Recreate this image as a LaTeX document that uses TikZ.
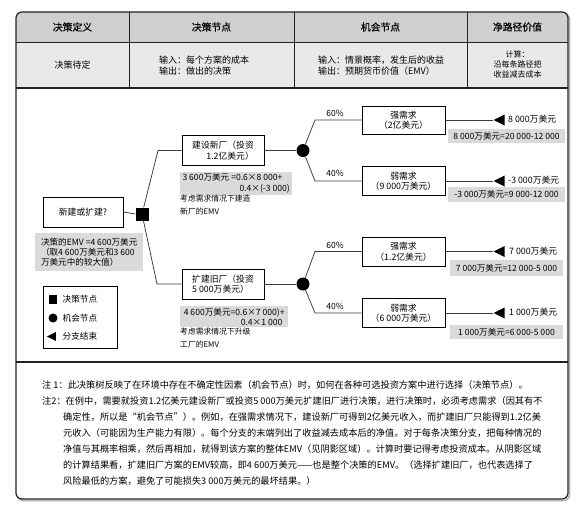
\documentclass[tikz,border=0pt]{standalone}
\usepackage{fontspec}
\setmainfont{Noto Sans CJK SC}
\newfontfamily\headfont[FakeBold=0.6]{Noto Sans CJK SC}
\usetikzlibrary{shapes.geometric}
\definecolor{headgray}{HTML}{CFCFCF}
\definecolor{rowgray}{HTML}{E9E9E9}
\definecolor{shadegray}{HTML}{DADADA}
\definecolor{linegray}{HTML}{3A3A3A}
\definecolor{framecol}{HTML}{222222}
\tikzset{
  frame/.style={draw=framecol, line width=1.2pt},
  thinrule/.style={draw=framecol, line width=0.7pt},
  headtxt/.style={font=\headfont\fontsize{9.8}{12}\selectfont, inner sep=0pt},
  rowtxt/.style={font=\fontsize{9}{11}\selectfont, inner sep=0pt, align=left},
  smalltxt/.style={font=\fontsize{8}{10}\selectfont, inner sep=0pt, align=center},
  treebox/.style={draw=black, line width=0.8pt, fill=white, minimum width=82pt, minimum height=30pt, inner sep=1pt, font=\fontsize{8.8}{10.5}\selectfont},
  shadebox/.style={fill=shadegray, inner sep=1pt, font=\fontsize{8.6}{10.5}\selectfont},
  annot/.style={font=\fontsize{7.8}{13}\selectfont, inner sep=0pt, align=left, anchor=north west},
  pct/.style={font=\fontsize{8.5}{10}\selectfont, inner sep=0pt},
  valtxt/.style={font=\fontsize{8.8}{10}\selectfont, inner sep=0pt, anchor=west},
  conn/.style={draw=linegray, line width=0.75pt},
  decnode/.style={rectangle, fill=black, minimum size=13pt, inner sep=0pt},
  chancenode/.style={circle, fill=black, minimum size=13pt, inner sep=0pt},
  endtri/.style={isosceles triangle, isosceles triangle stretches, shape border rotate=180, fill=black, inner sep=0pt, minimum width=11pt, minimum height=11pt},
  notetxt/.style={font=\fontsize{9.2}{11}\selectfont, inner sep=0pt, anchor=west},
  legtxt/.style={font=\fontsize{8.6}{10}\selectfont, inner sep=0pt, anchor=west}
}
\begin{document}
\begin{tikzpicture}[x=1pt,y=-1pt]
\useasboundingbox (0,0) rectangle (584,509);
\fill[white] (0,0) rectangle (584,509);
% shadow and backgrounds
\draw[black!30, line width=1.6pt, rounded corners=6pt] (17.6,13.6) rectangle (569.6,500.6);
\begin{scope}
\clip[rounded corners=6pt] (16,12) rectangle (568,499);
\fill[white] (16,12) rectangle (568,499);
\fill[headgray] (16,12) rectangle (568,42);
\fill[rowgray] (16,42) rectangle (568,88);
\end{scope}
\draw[frame, rounded corners=6pt] (16,12) rectangle (568,499);
\draw[thinrule] (16,42) -- (568,42);
\draw[frame] (16,88) -- (568,88);
\draw[frame] (16,362) -- (568,362);
\foreach \xx in {129,294,467} \draw[thinrule] (\xx,12) -- (\xx,88);

% header
\node[headtxt] (h1) at (72.5,27) {决策定义};
\node[headtxt] (h2) at (211.5,27) {决策节点};
\node[headtxt] (h3) at (380.5,27) {机会节点};
\node[headtxt] (h4) at (517.5,27) {净路径价值};
% row 2
\node[rowtxt] (r1) at (72.5,65) {决策待定};
\node[rowtxt] (r2) at (204,65.5) {输入：每个方案的成本\\输出：做出的决策};
\node[rowtxt] (r3) at (381,65.5) {输入：情景概率，发生后的收益\\输出：预期货币价值（EMV）};
\node[smalltxt] (r4) at (517.5,64.5) {计算：\\沿每条路径把\\收益减去成本};

% tree nodes
\node[treebox, minimum width=80pt] (q) at (83,212) {新建或扩建?};
\node[decnode] (d) at (142,214) {};
\coordinate (ua) at (158,150.5);
\coordinate (la) at (157,284);
\node[treebox, align=right] (a) at (223,150.5) {建设新厂（投资\\1.2亿美元）};
\node[treebox, align=left] (b) at (223,284) {扩建旧厂（投资\\5 000万美元）};
\node[chancenode] (c1) at (303,150.5) {};
\node[chancenode] (c2) at (303,284) {};
\coordinate (c1u) at (315,120);
\coordinate (c1d) at (315,181);
\coordinate (c2u) at (315,251.5);
\coordinate (c2d) at (315,313);
\node[treebox, minimum width=83pt, minimum height=28pt, align=center] (sc) at (403.5,120) {强需求\\（2亿美元）};
\node[treebox, minimum width=83pt, minimum height=29pt, align=center] (sd) at (403.5,181) {弱需求\\（9 000万美元）};
\node[treebox, minimum width=83pt, minimum height=29pt, align=center] (se) at (403.5,251.5) {强需求\\（1.2亿美元）};
\node[treebox, minimum width=83pt, minimum height=29pt, align=center] (sf) at (403.5,313) {弱需求\\（6 000万美元）};
\node[endtri, anchor=apex] (t1) at (493,120) {};
\node[endtri, anchor=apex] (t2) at (493,181) {};
\node[endtri, anchor=apex] (t3) at (493,251.5) {};
\node[endtri, anchor=apex] (t4) at (493,313) {};
\node[valtxt] (v1) at (508,119.5) {8 000万美元};
\node[valtxt] (v2) at (508,180.5) {-3 000万美元};
\node[valtxt] (v3) at (509,251) {7 000万美元};
\node[valtxt] (v4) at (509,312.5) {1 000万美元};
\node[shadebox, minimum width=117pt, minimum height=14pt] (g1) at (506.5,136) {8 000万美元=20 000-12 000};
\node[shadebox, minimum width=117pt, minimum height=15pt] (g2) at (506.5,194.5) {-3 000万美元=9 000-12 000};
\node[shadebox, minimum width=113pt, minimum height=16pt] (g3) at (506.5,268) {7 000万美元=12 000-5 000};
\node[shadebox, minimum width=113pt, minimum height=14pt] (g4) at (506.5,332) {1 000万美元=6 000-5 000};
\node[pct] (p1) at (335,113) {60\%};
\node[pct] (p2) at (335,173) {40\%};
\node[pct] (p3) at (335,245) {60\%};
\node[pct] (p4) at (335,306) {40\%};
% EMV shaded boxes
\node[shadebox, anchor=north west, minimum width=112pt, minimum height=22pt, align=left, inner sep=1.5pt] (ea) at (180,172) {3 600万美元 =0.6×8 000+\\\hspace*{57pt}0.4×(-3 000)};
\node[shadebox, anchor=north west, minimum width=108pt, minimum height=21pt, align=left, inner sep=1.5pt] (eb) at (180,306) {4 600万美元=0.6×7 000)+\\\hspace*{57pt}0.4×1 000};
\node[annot] (na) at (180,194.5) {考虑需求情况下建造\\新厂的EMV};
\node[annot] (nb) at (180,327.5) {考虑需求情况下升级\\工厂的EMV};
\node[shadebox, anchor=north west, minimum width=108pt, minimum height=38pt, align=left, inner sep=2pt, font=\fontsize{8.6}{10}\selectfont] (emv) at (35,233) {决策的EMV =4 600万美元\\（取4 600万美元和3 600\\万美元中的较大值）};

% connectors
\draw[conn] (q.east) -- (d.west);
\draw[conn] (d) -- (ua) -- (a.west);
\draw[conn] (d) -- (la) -- (b.west);
\draw[conn] (a.east) -- (c1.west);
\draw[conn] (b.east) -- (c2.west);
\draw[conn] (c1) -- (c1u) -- (sc.west);
\draw[conn] (c1) -- (c1d) -- (sd.west);
\draw[conn] (c2) -- (c2u) -- (se.west);
\draw[conn] (c2) -- (c2d) -- (sf.west);
\draw[conn] (sc.east) -- (t1.apex);
\draw[conn] (sd.east) -- (t2.apex);
\draw[conn] (se.east) -- (t3.apex);
\draw[conn] (sf.east) -- (t4.apex);

% legend
\node[draw=black, line width=0.8pt, minimum width=74pt, minimum height=62pt, inner sep=0pt] (leg) at (80,317) {};
\node[decnode, minimum size=8.5pt] (ls) at (53,299.5) {};
\node[chancenode, minimum size=9pt] (lc) at (53,318) {};
\node[endtri, minimum width=9pt, minimum height=9pt] (lt) at (53,336.5) {};
\node[legtxt] (l1) at (62.5,299.5) {决策节点};
\node[legtxt] (l2) at (62.5,318) {机会节点};
\node[legtxt] (l3) at (62.5,336.5) {分支结束};

% notes
\node[notetxt] (n1) at (42,385) {注 1：此决策树反映了在环境中存在不确定性因素（机会节点）时，如何在各种可选投资方案中进行选择（决策节点）。};
\node[notetxt] (n2) at (42,401.5) {注2：在例中，需要就投资1.2亿美元建设新厂或投资5 000万美元扩建旧厂进行决策，进行决策时，必须考虑需求（因其有不};
\node[notetxt] (n3) at (63,417.5) {确定性，所以是“机会节点”）。例如，在强需求情况下，建设新厂可得到2亿美元收入，而扩建旧厂只能得到1.2亿美};
\node[notetxt] (n4) at (63,433.5) {元收入（可能因为生产能力有限）。每个分支的末端列出了收益减去成本后的净值。对于每条决策分支，把每种情况的};
\node[notetxt] (n5) at (63,449.5) {净值与其概率相乘，然后再相加，就得到该方案的整体EMV（见阴影区域）。计算时要记得考虑投资成本。从阴影区域};
\node[notetxt] (n6) at (63,465.5) {的计算结果看，扩建旧厂方案的EMV较高，即4 600万美元——也是整个决策的EMV。（选择扩建旧厂，也代表选择了};
\node[notetxt] (n7) at (63,481.5) {风险最低的方案，避免了可能损失3 000万美元的最坏结果。）};
\end{tikzpicture}
\end{document}
